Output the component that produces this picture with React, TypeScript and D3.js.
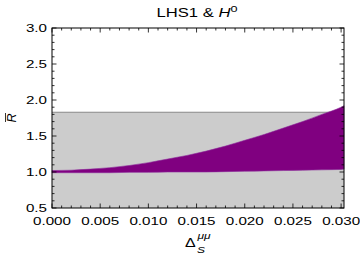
import React from 'react';
import * as d3 from 'd3';

// upper / lower edge of the allowed band
const deltaS = [0, 0.002, 0.004, 0.006, 0.008, 0.01, 0.012, 0.014, 0.016, 0.018, 0.02, 0.022, 0.024, 0.026, 0.028, 0.03, 0.0303];
const rUpper = [1.02, 1.025, 1.04, 1.06, 1.09, 1.13, 1.18, 1.23, 1.29, 1.36, 1.44, 1.52, 1.61, 1.7, 1.8, 1.9, 1.92];
const rLower = [0.99, 0.99, 0.99, 0.99, 0.995, 0.995, 1.0, 1.0, 1.0, 1.005, 1.01, 1.015, 1.02, 1.025, 1.03, 1.035, 1.04];

const bandLimit = 1.83;
const xTicks = [0, 0.005, 0.01, 0.015, 0.02, 0.025, 0.03];
const yTicks = [0.5, 1.0, 1.5, 2.0, 2.5, 3.0];

const W = 360;
const H = 256;
const FONT = '"Liberation Sans", Arial, sans-serif';
const SX = 1.33;

function T({ x, y, children, size = 11.4, anchor = 'middle', italic = false }: any) {
  return (
    <text
      transform={`translate(${x},${y}) scale(${SX},1)`}
      fontSize={size}
      fontFamily={FONT}
      fontStyle={italic ? 'italic' : 'normal'}
      textAnchor={anchor}
      fill="#000"
    >
      {children}
    </text>
  );
}

export default function App() {
  const x = d3.scaleLinear().domain([0, 0.0303]).range([52, 344]);
  const y = d3.scaleLinear().domain([0.5, 3]).range([208, 28]);

  const pts = deltaS.map((d, i) => ({ d, hi: rUpper[i], lo: rLower[i] }));
  const area = d3.area<{ d: number; hi: number; lo: number }>()
    .x(p => x(p.d))
    .y0(p => y(p.lo))
    .y1(p => y(p.hi))
    .curve(d3.curveMonotoneX);

  const [x0, x1] = x.range();
  const [yb, yt] = y.range();

  const xMinor = d3.range(0, 0.0303, 0.001);
  const yMinor = d3.range(0.5, 3.0001, 0.1);

  return (
    <svg width={W} height={H} style={{ position: 'absolute', left: 0, top: 0, background: '#fff' }}>
      {/* gray band */}
      <rect x={x0} y={y(bandLimit)} width={x1 - x0} height={yb - y(bandLimit)} fill="#cccccc" />
      <line x1={x0} x2={x1} y1={y(bandLimit)} y2={y(bandLimit)} stroke="#888" strokeWidth={1} />

      {/* purple region */}
      <path d={area(pts) ?? ''} fill="#800080" stroke="#8b2a9b" strokeWidth={0.6} />

      {/* ticks, inward on all sides */}
      {xMinor.map((v, i) => {
        const major = i % 5 === 0;
        const len = major ? 4.5 : 2.5;
        const px = x(v);
        return (
          <g key={'xt' + i} stroke="#000" strokeWidth={0.8}>
            <line x1={px} x2={px} y1={yb} y2={yb - len} />
            <line x1={px} x2={px} y1={yt} y2={yt + len} />
          </g>
        );
      })}
      {yMinor.map((v, i) => {
        const major = i % 5 === 0;
        const len = major ? 4.5 : 2.5;
        const py = y(v);
        return (
          <g key={'yt' + i} stroke="#000" strokeWidth={0.8}>
            <line x1={x0} x2={x0 + len} y1={py} y2={py} />
            <line x1={x1} x2={x1 - len} y1={py} y2={py} />
          </g>
        );
      })}

      {/* frame */}
      <rect x={x0} y={yt} width={x1 - x0} height={yb - yt} fill="none" stroke="#000" strokeWidth={1} />

      {/* tick labels */}
      {xTicks.map(v => (
        <T key={'xl' + v} x={x(v)} y={225}>{v.toFixed(3)}</T>
      ))}
      {yTicks.map(v => (
        <T key={'yl' + v} x={47} y={y(v) + 4} anchor="end">{v.toFixed(1)}</T>
      ))}

      {/* title */}
      <text transform={`translate(197,17) scale(${SX},1)`} fontSize={12.5} fontFamily={FONT} textAnchor="middle" fill="#000">
        LHS1 &amp; <tspan fontStyle="italic">H</tspan>
        <tspan fontSize={9.5} dy={-5}>0</tspan>
      </text>

      {/* y label: R-bar */}
      <g transform="translate(15.5,118) rotate(-90)">
        <text fontSize={12.5} fontFamily={FONT} fontStyle="italic" textAnchor="middle" fill="#000">R</text>
        <line x1={-4} x2={5} y1={-10} y2={-10} stroke="#000" strokeWidth={0.8} />
      </g>

      {/* x label */}
      <T x={185} y={246.5} size={12} anchor="start">Δ</T>
      <T x={197} y={253} size={9} anchor="start" italic>S</T>
      <T x={197.5} y={239} size={9} anchor="start" italic>μμ</T>
    </svg>
  );
}
